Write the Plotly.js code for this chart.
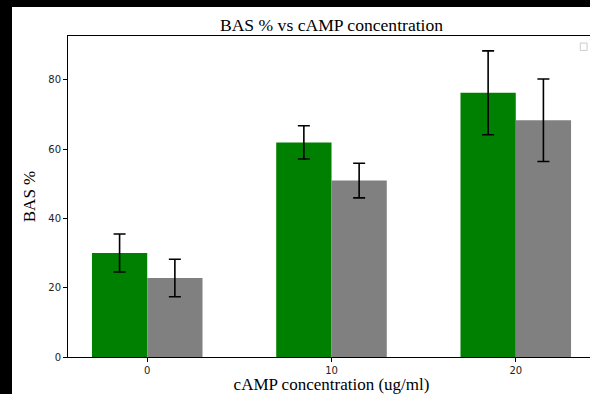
<!DOCTYPE html>
<html>
<head>
<meta charset="utf-8">
<script src="https://cdn.plot.ly/plotly-3.0.1.min.js"></script>
<style>
html,body{margin:0;padding:0;background:#000;width:590px;height:394px;overflow:hidden;}
#chart{position:absolute;left:12px;top:7px;width:600px;height:387px;background:#fff;}
</style>
</head>
<body>
<div id="chart"></div>
<script>
const concentrations = [0, 10, 20];
const tickLabels = ['0', '10', '20'];
const seriesA = [30.0, 61.9, 76.2];
const seriesAErr = [5.5, 4.8, 12.1];
const seriesB = [22.8, 50.9, 68.3];
const seriesBErr = [5.4, 5.0, 11.9];
const yTicks = [0, 20, 40, 60, 80];

const barW = 3;
const errStyle = (arr) => ({type: 'data', array: arr, visible: true, color: '#000', thickness: 1.6, width: 6});

const traces = [
  {type: 'bar', x: concentrations, y: seriesA, width: barW, offset: -barW,
   marker: {color: '#008000', line: {width: 0}}, error_y: errStyle(seriesAErr),
   showlegend: false, hoverinfo: 'none'},
  {type: 'bar', x: concentrations, y: seriesB, width: barW, offset: 0,
   marker: {color: '#808080', line: {width: 0}}, error_y: errStyle(seriesBErr),
   showlegend: false, hoverinfo: 'none'}
];

const tickFont = {family: 'DejaVu Sans', size: 10, color: '#222'};
const layout = {
  width: 600, height: 387,
  margin: {l: 56, r: 17, t: 29, b: 37},
  paper_bgcolor: '#fff', plot_bgcolor: '#fff',
  barmode: 'overlay',
  showlegend: false,
  title: {text: 'BAS % vs cAMP concentration', font: {family: 'Liberation Serif', size: 17.6, color: '#000'},
          x: 0.5, xref: 'paper', y: 0.955, yref: 'container', yanchor: 'middle'},
  xaxis: {range: [-4.3, 24.3], tickvals: concentrations, ticktext: tickLabels,
          showgrid: false, zeroline: false, showline: true, mirror: true, linecolor: '#000', linewidth: 1,
          ticks: 'outside', ticklen: 4, tickcolor: '#000', tickwidth: 1, tickfont: tickFont,
          title: {text: 'cAMP concentration (ug/ml)', font: {family: 'Liberation Serif', size: 17, color: '#000'}, standoff: 3}},
  yaxis: {range: [0, 92.6], tickvals: yTicks, ticktext: yTicks.map(String),
          showgrid: false, zeroline: false, showline: true, mirror: true, linecolor: '#000', linewidth: 1,
          ticks: 'outside', ticklen: 4, tickcolor: '#000', tickwidth: 1, tickfont: tickFont,
          title: {text: 'BAS %', font: {family: 'Liberation Serif', size: 17, color: '#000'}, standoff: 8}},
  shapes: [
    {type: 'rect', xref: 'paper', yref: 'paper', x0: 0.972, x1: 0.985, y0: 0.955, y1: 0.978,
     line: {color: '#ccc', width: 1}, fillcolor: '#fff'}
  ]
};

Plotly.newPlot('chart', traces, layout, {staticPlot: true, displayModeBar: false});
</script>
</body>
</html>
